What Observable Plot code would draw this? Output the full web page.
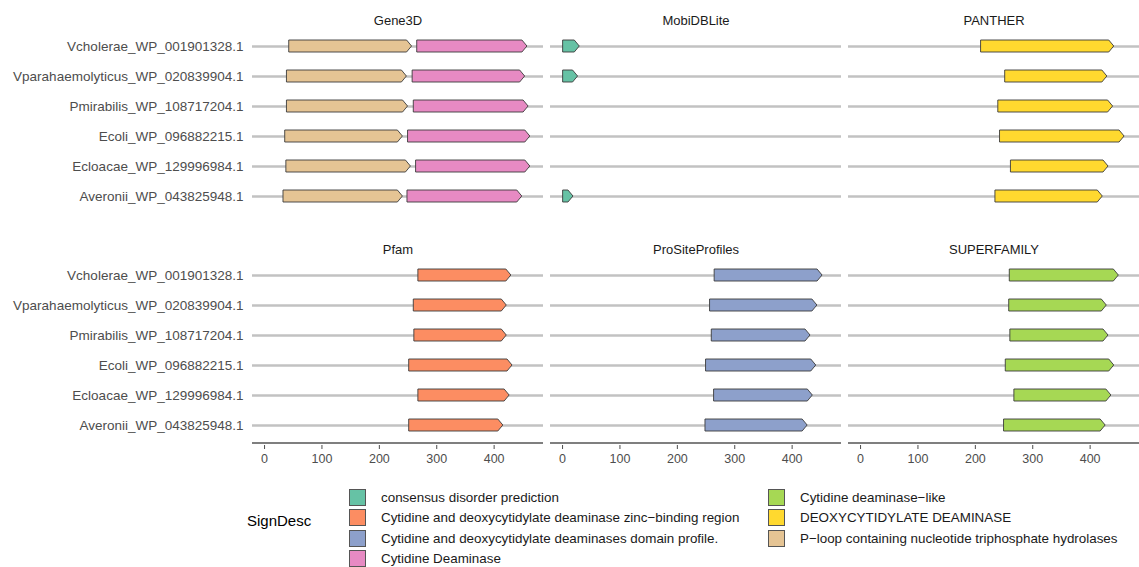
<!DOCTYPE html>
<html><head><meta charset="utf-8">
<script src="https://cdn.jsdelivr.net/npm/d3@7"></script>
<script src="https://cdn.jsdelivr.net/npm/@observablehq/plot@0.6"></script>
<style>
body{margin:0;background:#fff;font-family:"Liberation Sans",Arial,sans-serif;}
#wrap{position:relative;width:1139px;height:567px;overflow:hidden;}
#chart{position:absolute;left:0;top:0;}
.lgtitle{position:absolute;left:247px;top:511px;font-size:15px;color:#000;line-height:20px;}
.lgitem{position:absolute;height:20px;display:flex;align-items:center;font-size:13.4px;color:#1a1a1a;white-space:nowrap;}
.lgkey{width:17px;height:17px;border:1px solid #555;margin-right:15px;box-sizing:border-box;}
</style></head><body><div id="wrap"><div id="chart"></div><div id="legend"></div></div>
<script>
const genomes = [
  "Vcholerae_WP_001901328.1",
  "Vparahaemolyticus_WP_020839904.1",
  "Pmirabilis_WP_108717204.1",
  "Ecoli_WP_096882215.1",
  "Ecloacae_WP_129996984.1",
  "Averonii_WP_043825948.1"
];
const databases = ["Gene3D", "MobiDBLite", "PANTHER", "Pfam", "ProSiteProfiles", "SUPERFAMILY"];
const descs = [
  "consensus disorder prediction",
  "Cytidine and deoxycytidylate deaminase zinc-binding region",
  "Cytidine and deoxycytidylate deaminases domain profile.",
  "Cytidine Deaminase",
  "Cytidine deaminase-like",
  "DEOXYCYTIDYLATE DEAMINASE",
  "P-loop containing nucleotide triphosphate hydrolases"
];
const descColors = ["#66C2A5", "#FC8D62", "#8DA0CB", "#E78AC3", "#A6D854", "#FFD92F", "#E5C494"];
const xTicks = [0, 100, 200, 300, 400];

// domain start / end per genome (genome order as above)
const gene3dPloopStart = [43, 39, 39, 36, 38, 33];
const gene3dPloopEnd   = [257, 248, 250, 241, 255, 241];
const gene3dCdStart    = [266, 258, 260, 250, 264, 249];
const gene3dCdEnd      = [458, 454, 460, 463, 463, 449];
const mobiGenomes      = [0, 1, 5];
const mobiStart        = [1, 1, 1];
const mobiEnd          = [30, 27, 19];
const pantherStart     = [210, 252, 240, 243, 262, 235];
const pantherEnd       = [442, 430, 440, 460, 432, 422];
const pfamStart        = [268, 260, 261, 252, 268, 252];
const pfamEnd          = [430, 422, 422, 432, 427, 416];
const prositeStart     = [265, 257, 260, 250, 264, 249];
const prositeEnd       = [453, 444, 432, 442, 436, 427];
const superfamStart    = [260, 259, 261, 253, 268, 250];
const superfamEnd      = [450, 429, 432, 442, 437, 427];

const all6 = [0, 1, 2, 3, 4, 5];
function domains(db, desc, idx, start, end) {
  return idx.map((g, i) => ({db, desc, genome: genomes[g], start: start[i], end: end[i]}));
}
const genes = [
  ...domains("Gene3D", descs[6], all6, gene3dPloopStart, gene3dPloopEnd),
  ...domains("Gene3D", descs[3], all6, gene3dCdStart, gene3dCdEnd),
  ...domains("MobiDBLite", descs[0], mobiGenomes, mobiStart, mobiEnd),
  ...domains("PANTHER", descs[5], all6, pantherStart, pantherEnd),
  ...domains("Pfam", descs[1], all6, pfamStart, pfamEnd),
  ...domains("ProSiteProfiles", descs[2], all6, prositeStart, prositeEnd),
  ...domains("SUPERFAMILY", descs[4], all6, superfamStart, superfamEnd)
];
const lines = databases.flatMap(db => genomes.map(g => ({db, genome: g})));
const col = d => databases.indexOf(d.db) % 3;
const row = d => Math.floor(databases.indexOf(d.db) / 3);
const xDomain = [-21, 486];

function arrowRender(index, scales, values) {
  const h = 12, hl = 5;
  const g = d3.create("svg:g");
  for (const i of index) {
    const x1 = values.x1[i], x2 = values.x2[i], y = values.y[i];
    const xh = Math.max(x1, x2 - hl);
    g.append("path")
      .attr("d", `M${x1},${y - h / 2}L${xh},${y - h / 2}L${x2},${y}L${xh},${y + h / 2}L${x1},${y + h / 2}Z`)
      .attr("fill", values.stroke[i])
      .attr("stroke", "#3b3b3b")
      .attr("stroke-width", 0.9)
      .attr("stroke-linejoin", "round");
  }
  return g.node();
}

// axis baseline along the bottom of each bottom-row panel, placed from the scales
function axisLineRender(index, scales) {
  const step = scales.y(genomes[1]) - scales.y(genomes[0]);
  const yb = scales.y(genomes[genomes.length - 1]) + 0.6 * step;
  const g = d3.create("svg:g");
  g.append("line")
    .attr("x1", scales.x(xDomain[0])).attr("x2", scales.x(xDomain[1]))
    .attr("y1", yb).attr("y2", yb)
    .attr("stroke", "#555").attr("stroke-width", 1.6);
  return g.node();
}

const plot = Plot.plot({
  width: 1139, height: 467,
  marginLeft: 251, marginRight: 0, marginTop: 24, marginBottom: 21,
  style: {fontFamily: "'Liberation Sans', Arial, sans-serif", fontSize: "12px", color: "#4d4d4d", background: "#fff"},
  fx: {domain: [0, 1, 2], axis: null, paddingInner: 0.024, paddingOuter: 0},
  fy: {domain: [0, 1], axis: null, paddingInner: 0.165, paddingOuter: 0},
  x: {domain: xDomain, label: null},
  y: {type: "point", domain: genomes, padding: 0.6, label: null},
  color: {domain: descs, range: descColors},
  marks: [
    Plot.ruleY(lines, {y: "genome", fx: col, fy: row, stroke: "#c2c2c2", strokeWidth: 2.6}),
    Plot.ruleY(genes, {y: "genome", x1: "start", x2: "end", fx: col, fy: row, stroke: "desc", render: arrowRender}),
    Plot.text(databases, {fx: (d, i) => i % 3, fy: (d, i) => Math.floor(i / 3), text: d => d,
      frameAnchor: "top", dy: -10, fontSize: 13, fill: "#1a1a1a"}),
    Plot.ruleY([0, 1, 2], {fx: d => d, fy: () => 1, y: () => genomes[5], render: axisLineRender}),
    Plot.axisX({ticks: xTicks, tickSize: 4, tickPadding: 5, fontSize: 12.5, label: null}),
    Plot.axisY({tickSize: 0, tickPadding: 9, fontSize: 13.5, label: null})
  ]
});
document.getElementById("chart").appendChild(plot);

// legend from the plot's color scale
const cs = plot.scale("color");
const lg = document.getElementById("legend");
const t = document.createElement("div");
t.className = "lgtitle"; t.textContent = "SignDesc"; lg.appendChild(t);
cs.domain.forEach((d, i) => {
  const c = i < 4 ? 0 : 1, r = i < 4 ? i : i - 4;
  const it = document.createElement("div");
  it.className = "lgitem";
  it.style.left = (c === 0 ? 349 : 768) + "px";
  it.style.top = (487 + r * 20.5) + "px";
  const k = document.createElement("div");
  k.className = "lgkey"; k.style.background = cs.range[i];
  const s = document.createElement("span"); s.textContent = d.replace(/-/g, "\u2212");
  it.appendChild(k); it.appendChild(s); lg.appendChild(it);
});
</script></body></html>
